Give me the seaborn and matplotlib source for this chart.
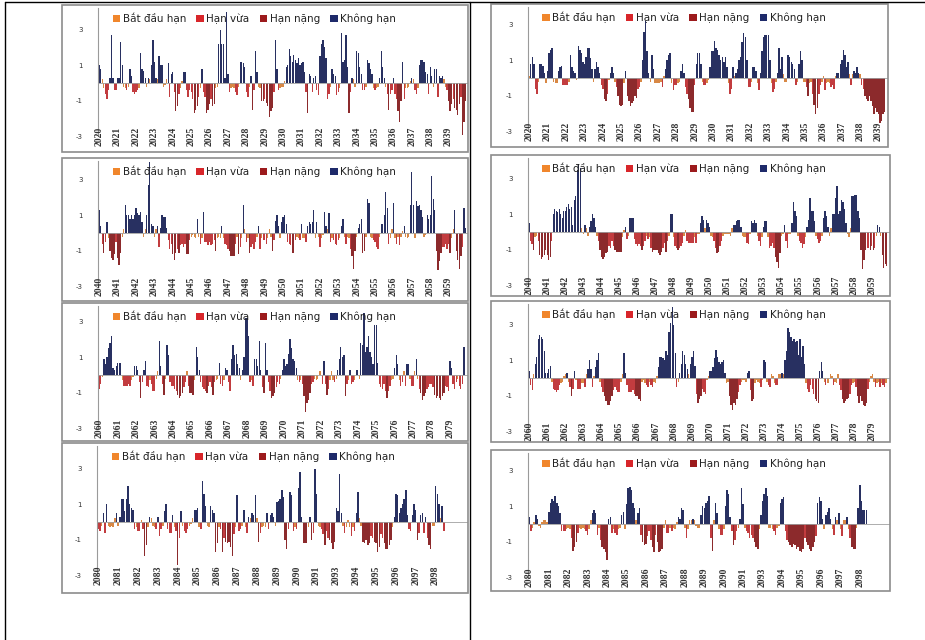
import matplotlib
matplotlib.use('Agg')
import matplotlib.pyplot as plt
from matplotlib.patches import Patch, Rectangle
from matplotlib.lines import Line2D
import numpy as np
import pandas as pd
import seaborn as sns

# monthly drought index, one row per year
left_2020 = [
    1.0, 0.8, 0.2, -0.3, -0.6, -0.9, -0.4, 0.3, 2.7, 0.3, -0.4, -0.4,
    0.3, 0.3, 2.3, 1.0, -0.2, -0.3, -0.4, -0.2, 0.8, 0.4, -0.5, -0.6,
    -0.5, -0.4, -0.3, 1.7, 0.8, 0.7, 0.3, -0.2, 0.3, 0.2, 1.0, 2.4,
    1.2, 0.3, 0.2, 1.5, 1.0, 1.0, -0.2, -0.1, 0.2, 1.1, -0.8, 0.5,
    0.6, -0.5, -1.6, -1.3, -0.6, -0.3, 0.1, 0.6, 0.6, -0.4, -0.8, -0.4,
    -0.5, -0.9, -1.7, -1.5, -1.3, -0.8, -0.3, 0.8, -0.5, -0.8, -1.7, -1.5,
    -1.2, -0.9, -1.3, -1.2, -0.3, -0.2, 2.2, 3.0, 2.2, 2.2, 0.3, 4.0,
    0.5, -0.5, -0.3, -0.2, -0.3, -0.5, -0.7, -0.2, 1.2, 1.2, 1.1, 0.9,
    -0.5, -0.8, -0.2, 0.4, -1.5, -0.4, 1.8, 0.6, -0.2, -0.3, -1.0, -1.0,
    -0.9, -1.1, -1.3, -1.9, -1.6, -1.4, -0.5, 2.4, 0.8, -0.4, -0.3, -0.2,
    -0.2, 0.1, 0.9, 1.0, 1.9, 1.5, 1.2, 1.6, 1.3, 1.1, 1.4, 1.0,
    1.1, 1.2, 0.6, -0.5, -1.7, 0.5, 0.4, -0.5, 0.3, 0.4, -0.4, -0.7,
    1.5, 2.2, 2.4, 2.0, 1.4, -0.9, -0.6, -0.2, 0.8, 0.5, 0.4, -0.7,
    -0.5, -0.3, 2.8, 1.2, 1.3, 2.7, 0.9, -1.7, -0.5, 0.3, 0.2, -0.2,
    1.8, 1.7, 0.9, 0.5, -0.4, -0.4, -0.2, 1.3, 1.1, 0.8, 0.5, -0.3,
    -0.4, -0.3, -0.2, 0.3, 1.8, 0.9, 0.3, -0.2, -0.6, -1.5, -0.6, -0.4,
    0.3, -0.6, -0.9, -1.6, -2.2, -1.0, 1.2, -0.9, -0.3, -0.3, -0.2, 0.1,
    0.3, 0.2, -0.4, -0.6, -0.3, 1.0, 1.3, 1.3, 1.2, 0.6, 0.5, -0.6,
    0.9, 0.4, -0.2, 0.8, 0.8, -0.8, 0.4, 0.3, 0.4, 0.2, -0.2, -0.4,
    -1.0, -1.6, -1.2, -0.9, -1.4, -1.5, -1.8, -1.2, -0.8, -2.9, -2.2, -1.0,
]

right_2020 = [
    0.1, 0.8, 1.2, 0.8, -0.6, -0.9, -0.2, 0.8, 0.8, 0.7, 0.3, -0.3,
    0.4, 1.4, 1.6, 1.7, -0.2, -0.3, -0.3, 0.4, 0.6, 0.7, -0.4, -0.4,
    -0.4, -0.4, -0.2, 1.3, 0.6, 0.4, 0.3, -0.1, 1.8, 1.6, 1.4, 0.9,
    0.8, 1.2, 1.7, 1.7, 1.1, 0.5, -0.2, 0.5, 0.9, 0.6, 0.3, -0.4,
    -0.6, -1.2, -1.3, -0.9, -0.1, 0.3, 0.6, 0.3, -0.2, -0.5, -1.0, -1.5,
    -1.6, -1.5, -0.3, 0.4, -1.0, -1.3, -1.6, -1.4, -1.3, -1.0, -1.1, -0.6,
    -0.5, -0.2, 1.0, 2.6, 3.2, 1.5, 0.3, -0.2, 1.3, 0.5, -0.3, -0.3,
    -0.3, -0.3, -0.2, -0.5, 0.1, 0.5, 1.0, 1.3, 1.4, -0.3, -0.7, -0.4,
    -0.4, -0.3, -0.2, 0.4, 0.8, 0.3, -0.5, -0.9, -1.2, -1.7, -1.9, -1.9,
    -0.4, 0.8, 1.4, 1.4, 0.8, -0.2, -0.4, -0.4, -0.3, -0.1, 0.6, 1.5,
    1.5, 2.1, 1.7, 1.6, 1.3, 1.0, 1.2, 0.9, 1.2, 0.6, -0.3, -0.9,
    -0.6, 0.6, 0.1, 0.3, 0.5, 1.0, 1.2, 2.0, 2.5, 2.3, 1.0, -0.5,
    -0.5, -0.2, 0.6, 0.6, 0.4, -0.3, -0.7, 0.3, 1.5, 2.3, 2.4, 2.4,
    2.4, 1.0, -0.3, -0.8, -0.6, -0.2, 0.3, 1.7, 0.5, 1.2, 0.2, -0.2,
    -0.2, 1.3, 1.2, 0.9, 0.8, 0.5, -0.4, -0.2, 0.8, 1.5, 1.0, -0.2,
    -0.2, -0.5, -1.0, -0.3, -0.2, -0.9, -1.5, -2.0, -1.7, -0.9, -0.4, -0.2,
    0.1, -0.7, -0.3, -0.2, -0.3, -0.5, -0.4, -0.6, 0.1, 0.3, 0.3, 0.8,
    1.0, 1.6, 1.3, 0.6, 0.9, 0.2, -0.4, 0.2, 0.4, 0.3, 0.6, 0.3,
    0.2, -0.4, -0.6, -1.0, -1.2, -1.3, -1.0, -1.3, -1.6, -2.0, -1.7, -1.9,
    -2.0, -2.5, -2.4, -2.0, -1.9,
]

left_2040 = [
    1.3, 0.4, -0.6, -1.1, -0.5, 0.6, -0.3, -1.0, -1.4, -1.5, -1.2, -0.5,
    -1.4, -1.8, -1.1, -0.2, 0.2, 1.6, 1.0, 1.0, 0.8, 1.0, 0.8, 1.0,
    1.4, 1.1, 1.0, 1.2, 0.6, -0.2, 0.2, 1.0, 2.7, 4.0, 0.5, 0.4,
    -0.2, 0.2, 0.4, -0.8, 0.3, 1.0, 0.9, 0.9, 0.3, -0.4, -0.9, -0.6,
    -1.2, -1.5, -1.1, -0.9, -1.1, -0.7, -0.6, -0.8, -0.6, -1.2, -1.2, -0.4,
    -0.2, -0.1, -0.2, -0.3, 0.8, -0.2, -0.6, -0.3, 1.2, -0.5, -0.5, -0.7,
    -0.5, -0.7, -0.6, -0.4, -1.0, -0.3, -0.2, -0.3, 0.4, -0.3, -0.6, -0.7,
    -0.9, -1.0, -1.3, -1.3, -1.3, -0.6, -0.2, -1.2, -0.8, -0.3, 1.6, 0.2,
    -0.5, -0.3, -1.1, -0.8, -0.6, -0.9, -0.5, -0.2, 0.4, -0.9, -0.3, -0.4,
    -0.4, -0.6, -0.3, 0.2, -0.2, -1.0, -0.4, 0.7, 1.0, 0.4, -0.3, 0.6,
    0.9, 1.0, 0.5, -0.5, -0.6, -0.7, -1.1, -1.1, -0.4, -0.2, -0.3, -0.4,
    0.5, -0.3, -0.3, -0.5, 0.4, 0.6, 0.5, 0.6, 1.3, -0.3, 0.6, -0.2,
    -0.8, -0.3, -0.1, 1.2, 0.4, 0.2, 1.1, -0.5, -0.3, -0.4, -0.6, -0.7,
    -0.4, -0.3, 0.4, 0.8, -0.2, -0.6, -0.2, -0.3, -0.9, -1.3, -2.0, -1.0,
    -0.2, 0.3, 0.5, 0.8, -1.1, -1.0, -0.2, 1.9, 1.7, -0.2, -0.3, -0.4,
    -0.5, -0.8, -0.9, -0.2, 0.5, 0.5, 1.0, 2.3, 1.4, -0.6, -0.3, 0.2,
    1.7, -0.3, -0.6, -0.2, -0.7, -0.2, 0.1, 0.4, -0.2, -0.3, -0.2, 1.6,
    3.4, 1.6, -0.3, 1.8, 1.5, 1.6, 1.3, 0.9, -0.2, -0.1, 1.0, 0.8,
    1.0, 3.2, 1.9, 1.3, -1.0, -2.1, -1.6, -1.1, -0.8, -0.8, -0.6, -0.9,
    -0.6, -1.1, -0.3, 0.2, 1.3, -1.0, -1.5, -2.0, -1.3, -0.8, 1.4, 0.3,
]

right_2040 = [
    0.5, -0.5, -0.7, -1.0, -0.3, -0.2, -0.5, -1.3, -1.5, -1.4, -1.3, -1.0,
    -1.3, -1.6, -1.4, -0.5, 1.0, 1.3, 1.2, 1.1, 1.3, 1.0, 0.8, 1.2,
    1.2, 1.4, 1.6, 1.3, 1.4, 0.4, 1.8, 2.0, 3.5, 3.8, 3.6, 0.2,
    -0.1, 0.4, 0.2, -0.2, 0.3, 0.6, 1.0, 0.8, 0.3, -0.2, -0.5, -1.0,
    -1.4, -1.5, -1.4, -1.2, -1.1, -0.8, -0.9, -0.5, -0.8, -1.0, -1.1, -1.1,
    -1.1, -1.1, -0.3, 0.1, 0.3, -0.4, -0.2, 0.8, 0.8, 0.8, -0.4, -0.7,
    -0.8, -0.7, -0.8, -1.0, -0.8, -0.5, -0.2, -0.4, -0.3, -0.9, -1.1, -1.0,
    -1.0, -1.0, -1.2, -1.3, -1.1, -0.9, -0.6, -1.1, -0.5, -0.2, 1.0, 1.0,
    -0.3, -0.8, -0.9, -1.0, -0.9, -0.8, -0.6, -0.2, 0.1, -0.5, -0.6, -0.6,
    -0.6, -0.6, -0.3, -0.6, -0.1, -0.1, 0.5, 0.9, 0.7, 0.2, 0.7, 0.5,
    0.3, -0.2, -0.3, -0.5, -0.9, -1.2, -1.1, -0.8, -0.5, -0.2, -0.1, -0.1,
    -0.1, -0.1, -0.2, 0.2, 0.4, 0.4, 0.6, 0.7, 0.7, 0.3, -0.2, -0.3,
    -0.3, -0.6, -0.7, -0.1, 0.6, 0.5, 0.7, 0.5, -0.2, -0.5, -0.8, -0.3,
    0.3, 0.6, 0.6, -0.3, -0.9, -0.8, -0.6, -0.9, -1.4, -1.7, -2.0, -1.2,
    -0.2, -0.1, 0.4, -0.5, -0.9, -0.1, -0.1, 0.5, 1.7, 1.2, 0.9, -0.2,
    -0.5, -0.6, -0.9, -0.7, -0.3, 0.3, 0.7, 1.9, 1.2, 1.2, 0.6, -0.2,
    -0.4, -0.6, -0.5, -0.2, 0.8, 1.2, 0.9, 0.3, -0.2, 0.2, 1.0, 1.0,
    1.9, 2.6, 1.0, 1.2, 1.8, 1.7, 1.3, 0.5, -0.1, -0.3, 0.2, 2.0,
    2.0, 2.1, 2.1, 1.2, 0.8, -1.0, -2.1, -1.6, -1.0, -0.9, -0.9, -1.0,
    -0.8, -1.0, -0.9, -0.2, 0.4, 0.3, -0.2, -1.3, -2.0, -1.8, -1.9,
]

left_2060 = [
    -0.8, -0.5, -0.1, 0.9, 0.6, 1.0, 1.5, 1.8, 2.2, 0.4, 0.3, 0.5,
    0.7, 0.7, 0.7, -0.3, -0.6, -0.6, -0.6, -0.5, -0.6, -0.3, -0.1, 0.5,
    0.5, 0.3, -0.4, -1.3, -0.4, 0.3, 0.8, -0.6, -0.7, -0.3, -0.5, -0.9,
    -0.9, -0.2, 0.2, 1.9, 0.5, -0.5, -1.1, -0.2, 1.7, 1.1, -0.4, -0.6,
    -0.6, -0.8, -0.9, -1.1, -1.3, -1.2, -1.0, -0.7, -0.4, 0.2, -0.6, -1.0,
    -1.0, -1.1, -0.3, 1.6, 1.0, 0.3, -0.4, -0.7, -0.8, -0.9, -1.0, -0.6,
    -0.4, -0.7, -1.1, -0.4, -0.3, -0.2, 0.7, -0.5, -0.6, -0.3, 0.4, 0.3,
    -0.4, -0.9, 0.9, 1.7, 1.1, 1.2, 0.6, 0.4, -0.3, 0.3, 1.0, 3.2,
    3.2, 2.2, -0.4, -0.3, -0.6, 0.9, 0.9, 0.5, 1.9, 0.3, -0.7, -1.0,
    1.8, 0.3, -0.4, -0.9, -1.3, -1.2, -1.0, -0.7, -0.4, -0.5, -0.2, 0.3,
    0.9, 0.5, 0.6, 1.2, 2.0, 1.5, 0.9, 0.8, 0.4, -0.3, -0.4, -0.3,
    -0.5, -1.2, -2.1, -1.6, -1.4, -1.0, -0.5, -0.4, -0.2, -0.3, -0.2, 0.2,
    0.2, -0.5, 0.8, -0.5, -1.1, -0.8, -0.3, 0.2, -0.3, -0.4, -0.2, 0.3,
    0.9, 1.6, 1.0, 1.1, -1.2, -0.5, -0.3, 0.3, -0.5, -0.4, -0.3, 0.3,
    0.3, -0.2, 1.8, 1.7, 3.5, 1.3, 1.6, 2.2, 1.3, 1.0, 0.6, 2.8,
    2.8, 0.7, -0.5, -0.7, -0.8, -0.5, -0.9, -1.3, -0.9, -0.6, -0.3, -0.2,
    0.4, 1.1, 0.6, -0.3, -0.6, -0.4, 0.2, -0.6, 0.6, 0.6, -0.2, -0.6,
    -0.6, 0.2, 0.9, -0.2, -0.8, -1.0, -1.4, -1.2, -1.0, -0.8, -0.7, -0.5,
    -0.5, -0.7, -1.1, -1.3, -1.2, -1.3, -1.4, -1.2, -1.0, -0.6, -0.7, -0.9,
    0.8, 0.4, -0.5, -0.8, -0.4, -0.2, -0.6, -0.8, -0.5, 1.6,
]

right_2060 = [
    0.4, -0.4, -0.7, 0.2, 0.8, 1.2, 2.2, 2.4, 2.3, 2.2, 1.5, 0.3,
    0.3, 0.5, 0.7, -0.2, -0.6, -0.7, -0.8, -0.7, -0.4, -0.3, -0.2, 0.1,
    0.2, 0.3, -0.2, -0.5, -1.0, -0.6, 0.4, -0.1, -0.6, -0.6, -0.6, -0.3,
    -0.3, -0.5, 0.2, 0.5, 1.0, 0.5, -0.5, 0.1, 0.6, 1.0, 1.4, -0.2,
    -0.5, -0.8, -1.0, -1.3, -1.5, -1.5, -1.3, -1.0, -0.7, -0.5, -0.7, -0.8,
    -0.8, -0.2, 0.2, 1.4, 0.3, -0.4, -0.8, -0.8, -0.8, -0.7, -0.9, -1.0,
    -1.0, -1.2, -1.3, -0.2, -0.1, -0.3, -0.4, -0.5, -0.2, -0.4, -0.5, -0.2,
    -0.3, 0.1, 0.6, 1.2, 1.2, 1.1, 1.0, 1.5, 1.3, 2.6, 3.1, 4.0,
    3.0, 1.4, -0.5, -0.2, 0.3, 0.8, 1.5, 1.3, 0.8, 0.5, 0.2, 0.8,
    1.2, 1.5, 0.7, -0.9, -1.4, -1.2, -1.0, -0.6, -0.8, -0.9, -0.1, 0.1,
    0.4, 0.4, 0.6, 1.1, 1.6, 1.2, 0.9, 0.8, 0.9, 1.0, 0.3, -0.3,
    -0.2, -1.0, -1.5, -1.8, -1.4, -1.5, -1.2, -0.8, -0.4, -0.2, -0.1, -0.1,
    -0.2, 0.3, 0.4, -0.7, -1.3, -1.2, -0.3, -0.1, -0.2, -0.3, -0.5, -0.1,
    1.0, 0.9, -0.2, -0.4, -0.5, 0.2, 0.1, -0.3, -0.4, -0.4, 0.2, 0.2,
    0.3, 0.2, 1.0, 1.5, 2.8, 2.6, 2.3, 2.1, 2.2, 2.0, 2.1, 1.3,
    2.2, 1.2, 1.8, 0.8, -0.3, -0.6, -0.8, -0.4, -0.6, -0.9, -1.2, -1.3,
    -1.4, 0.4, 0.9, 0.4, -0.2, -0.4, -0.3, -0.3, 0.2, 0.1, -0.4, -0.2,
    -0.3, 0.2, -0.4, -0.7, -1.2, -1.4, -1.3, -1.2, -1.1, -0.9, -0.4, -0.3,
    -0.2, -0.5, -1.0, -1.4, -1.0, -1.3, -1.5, -1.6, -1.4, -0.6, -0.2, 0.1,
    0.2, -0.2, -0.5, -0.3, -0.2, -0.5, -0.3, -0.4, -0.5, -0.3,
]

left_2080 = [
    -0.4, -0.5, -0.2, 0.5, -0.6, 1.0, -0.2, -0.3, -0.2, -0.3, 0.2, 0.5,
    -0.2, 0.3, 1.3, 1.3, 0.6, 1.3, 2.0, 1.0, 0.8, 0.7, -0.4, -0.3,
    -0.5, -0.5, 0.1, -0.4, -1.9, -1.3, -0.3, 0.3, 0.2, -0.2, -0.3, -0.4,
    0.3, -0.8, -0.4, -0.2, 0.6, 1.0, -0.4, -0.6, -0.6, 0.4, -0.3, -0.5,
    -2.4, -0.9, 0.6, -0.2, -0.5, -0.6, -0.4, -0.2, -0.1, 0.2, 0.7, 0.7,
    0.8, -0.3, -0.4, 2.3, 1.6, 0.9, -0.2, -0.3, 0.9, 0.7, 0.5, -1.7,
    -1.2, -0.3, -0.4, -1.7, -0.9, -1.1, -1.2, -1.1, -1.4, -1.9, -0.7, -0.3,
    1.5, -0.5, -0.4, -0.2, 0.7, -0.3, -0.6, 0.3, 0.2, 0.5, 0.4, 1.5,
    0.2, -1.1, -0.6, -0.3, -0.2, -0.3, 0.5, -0.4, 0.4, 0.5, 0.3, -0.2,
    1.1, 1.2, 1.3, 1.8, 1.4, -1.0, -1.5, -0.4, 1.7, 1.5, -0.5, -0.3,
    -0.4, 1.9, 2.8, 0.3, -1.2, -1.2, -1.2, -0.3, 0.3, -1.0, -0.6, 3.0,
    1.6, -0.2, -0.3, -0.4, -0.7, -1.3, -0.5, -0.9, -1.0, -1.2, -1.5, -1.1,
    0.8, 0.6, 2.7, 0.5, -0.2, -0.6, -0.3, 0.1, -0.3, -0.8, -0.3, -0.5,
    0.5, 1.7, 0.2, -0.2, -1.1, -1.2, -1.0, -1.3, -1.2, -0.8, -0.9, -1.1,
    -1.2, -1.7, -1.4, -0.7, -0.9, -1.2, -1.5, -1.5, -1.3, -1.0, -0.3, 0.3,
    1.6, 1.5, 0.5, 0.8, 1.0, 1.3, 1.8, 0.4, -0.4, -0.5, 0.4, 1.0,
    0.7, -1.0, -0.6, 0.4, 0.5, -0.6, 0.3, -0.9, -1.3, -1.5, -0.2, -0.2,
    2.0, 1.6, 1.0, 0.2, 0.9, -0.5,
]

right_2080 = [
    0.4, -0.4, -0.2, 0.1, 0.5, 0.3, -0.1, -0.2, 0.1, 0.2, 0.2, 0.1,
    0.7, 1.2, 1.4, 1.3, 1.6, 1.2, 1.0, 0.6, -0.4, -0.4, -0.4, -0.3,
    -0.2, -0.3, -0.8, -1.5, -1.3, -1.0, -0.5, -0.2, -0.3, -0.2, -0.3, -0.4,
    -0.6, -0.3, 0.2, 0.6, 0.8, 0.6, -0.6, -0.2, -0.9, -1.3, -1.4, -1.6,
    -2.0, 0.3, 0.4, -0.5, -0.3, -0.5, -0.6, -0.3, -0.2, 0.5, 0.7, -0.3,
    1.1, 2.0, 2.1, 1.9, 1.2, 0.9, 0.2, 0.6, 0.9, -0.6, -1.0, -1.2,
    -1.1, -0.7, -0.4, -0.9, -1.3, -1.6, -0.6, -1.0, -1.6, -1.5, -1.4, -0.2,
    0.2, -0.5, -0.5, -0.2, -0.4, -0.2, -0.3, 0.1, 0.4, 0.3, 0.9, 0.8,
    -0.2, -0.8, -0.3, 0.2, 0.2, 0.3, 0.2, -0.1, -0.2, -0.2, 0.5, 1.0,
    0.9, 1.2, 1.3, 1.6, -0.8, -1.5, 0.2, 1.2, 0.6, -0.3, -0.6, -0.6,
    -0.3, 1.0, 1.9, 1.7, 0.4, -0.4, -1.2, -0.9, -0.4, -0.2, 0.3, 2.0,
    1.1, -0.2, -0.4, -0.5, -0.8, -0.6, -0.8, -1.0, -1.3, -1.4, -0.3, 0.5,
    1.3, 1.7, 2.0, 1.6, -0.2, -0.2, -0.3, -0.4, -0.6, -0.2, -0.1, 1.2,
    1.4, 1.5, -0.4, -0.9, -1.0, -1.2, -1.3, -1.1, -1.2, -1.4, -1.3, -1.5,
    -1.6, -1.4, -0.8, -1.0, -1.2, -1.4, -1.5, -1.3, -1.0, -0.7, 1.2, 1.5,
    1.3, 0.3, -0.3, 0.5, 0.7, 0.9, 0.3, -0.3, -0.6, 0.4, 0.2, 0.6,
    -0.3, -0.7, 0.2, 0.2, 0.4, -0.3, -0.8, -1.3, -1.4, -1.4, -0.2, 0.9,
    2.2, 1.3, 0.8, 0.8, 0.8,
]

years_2020 = ['2020', '2021', '2022', '2023', '2024', '2025', '2026', '2027', '2028', '2029',
              '2030', '2031', '2032', '2033', '2034', '2035', '2036', '2037', '2038', '2039']
years_2040 = ['2040', '2041', '2042', '2043', '2044', '2045', '2046', '2047', '2048', '2049',
              '2050', '2051', '2052', '2053', '2054', '2055', '2056', '2057', '2058', '2059']
years_2060 = ['2060', '2061', '2062', '2063', '2064', '2065', '2066', '2067', '2068', '2069',
              '2070', '2071', '2072', '2073', '2074', '2075', '2076', '2077', '2078', '2079']
years_2080 = ['2080', '2081', '2082', '2083', '2084', '2085', '2086', '2087', '2088',
              '2089', '2090', '2091', '2093', '2094', '2095', '2096', '2097', '2098']

LABELS = ['Bắt đầu hạn', 'Hạn vừa', 'Hạn nặng', 'Không hạn']
COLORS = {'Bắt đầu hạn': '#F0862C', 'Hạn vừa': '#D8262A',
          'Hạn nặng': '#9C1A1C', 'Không hạn': '#1E2A6A'}


def drought_class(v):
    if v > 0.25:
        return 'Không hạn'
    if v > -0.35:
        return 'Bắt đầu hạn'
    if v > -0.95:
        return 'Hạn vừa'
    return 'Hạn nặng'


sns.set_style('white')
plt.rcParams['font.family'] = ['DejaVu Sans']

W, H = 925, 640
UNIT = 17.8  # pixels per index unit
fig = plt.figure(figsize=(W / 100, H / 100), dpi=100)

# values, year labels, box (x0, y0, x1, y1) px, y-axis x px, zero line y px, axis length (months), bar width
panels = [
    (left_2020, years_2020, (62, 5, 468, 152), 98, 83, 240, 0.85),
    (right_2020, years_2020, (491, 4, 888, 147), 528, 78, 233.5, 0.95),
    (left_2040, years_2040, (62, 158, 468, 301), 98, 233, 240, 0.85),
    (right_2040, years_2040, (491, 155, 890, 296), 528, 232, 239.5, 0.95),
    (left_2060, years_2060, (62, 303, 468, 441), 98, 375, 239, 0.85),
    (right_2060, years_2060, (491, 301, 890, 442), 528, 378, 239, 0.95),
    (left_2080, years_2080, (62, 443, 468, 593), 97, 522, 223, 0.85),
    (right_2080, years_2080, (491, 450, 890, 591), 528, 524, 222, 0.95),
]

handles = [Patch(facecolor=COLORS[l], edgecolor='none', label=l) for l in LABELS]

for values, years, box, yx, zero, xmax, bw in panels:
    x0, y0, x1, y1 = box
    top, bottom, right = y0 + 3, y1 - 3, x1 - 1
    ax = fig.add_axes([yx / W, 1 - bottom / H, (right - yx) / W, (bottom - top) / H])
    ax.patch.set_alpha(0)

    df = pd.DataFrame({'month': np.arange(len(values)), 'spi': values})
    df['cls'] = [drought_class(v) for v in values]
    sns.barplot(data=df, x='month', y='spi', hue='cls', hue_order=LABELS,
                palette=COLORS, native_scale=True, dodge=False, width=bw,
                linewidth=0, errorbar=None, legend=False, ax=ax)

    ax.set_xlim(-0.8, xmax)
    ax.set_ylim(-(bottom - zero) / UNIT, (zero - top) / UNIT)
    ax.set_xlabel('')
    ax.set_ylabel('')

    for s in ['top', 'right']:
        ax.spines[s].set_visible(False)
    ax.spines['left'].set_color('#9a9a9a')
    ax.spines['left'].set_bounds(-3, (zero - top) / UNIT)
    ax.spines['bottom'].set_position(('data', 0))
    ax.spines['bottom'].set_color('#a0a0a0')
    ax.spines['bottom'].set_linewidth(0.6)

    # one small tick per month along the zero line
    ax.set_xticks(np.arange(0, int(xmax)))
    ax.tick_params(axis='x', length=3.5, width=0.6, color='#909090',
                   direction='out', labelbottom=False)
    ax.set_yticks([3, 1, -1, -3])
    ax.set_yticklabels(['3', '1', '-1', '-3'])
    ax.tick_params(axis='y', length=3, width=0.6, color='#9a9a9a',
                   labelsize=5, labelcolor='#333333', pad=8)

    for k, yr in enumerate(years):
        ax.text(12 * k, -3, yr, rotation=90, ha='center', va='center',
                fontsize=7, fontweight='bold', color='#333333',
                family=['Liberation Serif', 'DejaVu Serif'])

    ax.legend(handles=handles, loc='upper left',
              bbox_to_anchor=(0.04, 1 - 5 / (bottom - top)), ncol=4,
              frameon=False, fontsize=7.5, handlelength=0.7, handleheight=0.7,
              handletextpad=0.25, columnspacing=1.0, borderaxespad=0, borderpad=0,
              labelcolor='#222222')

    fig.add_artist(Rectangle((x0 / W, 1 - y1 / H), (x1 - x0) / W, (y1 - y0) / H,
                             transform=fig.transFigure, fill=False,
                             edgecolor='#8c8c8c', linewidth=1.2))

# page frame lines
fig.add_artist(Line2D([5 / W, 1], [1 - 2 / H, 1 - 2 / H], transform=fig.transFigure,
                      color='black', linewidth=1))
fig.add_artist(Line2D([5 / W, 5 / W], [0, 1 - 2 / H], transform=fig.transFigure,
                      color='black', linewidth=1))
fig.add_artist(Line2D([470 / W, 470 / W], [0, 1 - 2 / H], transform=fig.transFigure,
                      color='black', linewidth=1))

fig.savefig('out.png', dpi=100)
